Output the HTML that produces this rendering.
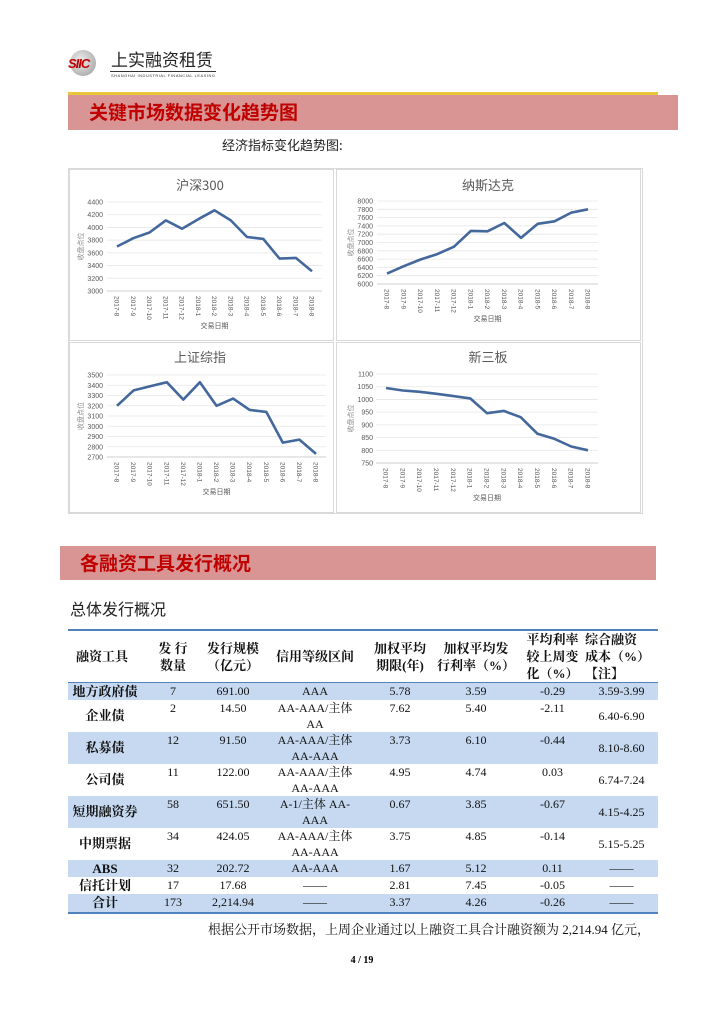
<!DOCTYPE html>
<html><head><meta charset="utf-8">
<style>
*{margin:0;padding:0;box-sizing:border-box}
body{width:724px;height:1023px;background:#fff;position:relative;font-family:"Liberation Sans","Noto Sans CJK SC",sans-serif;overflow:hidden}
.abs{position:absolute}
.banner{position:absolute;background:#d99594;color:#c00000;font-weight:bold;font-size:19px;font-family:"Noto Sans CJK SC",sans-serif}
table{border-collapse:collapse;position:absolute;left:68px;top:630px;width:590px;font-family:"Liberation Serif","Noto Serif CJK SC",serif;font-size:12px;color:#111}
td{text-align:center;vertical-align:top;padding:0;line-height:16px}
tr.b td{background:#c6d9f1}
td.n{font-weight:bold;vertical-align:middle;font-size:13px}
td.m{vertical-align:middle}
thead td{font-weight:bold;font-size:13px;vertical-align:middle;line-height:17px}
</style></head><body>
<!-- logo -->
<div class="abs" style="left:70px;top:50px;width:26px;height:26px;border-radius:50%;background:radial-gradient(circle at 40% 40%,#eee,#999)"></div>
<div class="abs" style="left:68px;top:56px;font:italic bold 13px 'Liberation Sans',sans-serif;color:#c00000;letter-spacing:-1px">SIIC</div>
<div class="abs" style="left:111px;top:48px;font-size:17px;color:#222;font-family:'Noto Sans CJK SC',sans-serif;line-height:22px">上实融资租赁</div>
<div class="abs" style="left:110px;top:71px;width:106px;border-top:1px solid #333"></div>
<div class="abs" style="left:111px;top:73px;font-size:4px;color:#333;letter-spacing:0.5px">SHANGHAI INDUSTRIAL FINANCIAL LEASING</div>
<div class="abs" style="left:68px;top:92px;width:590px;height:3px;background:#e8c53a"></div>
<div class="banner" style="left:68px;top:95px;width:610px;height:35px;line-height:33px;padding-left:21px">关键市场数据变化趋势图</div>
<div class="abs" style="left:222px;top:135px;font-size:13px;color:#222;font-family:'Noto Sans CJK SC',sans-serif">经济指标变化趋势图:</div>
<svg class="abs" style="left:0;top:0" width="724" height="530" id="ch"></svg>
<div class="banner" style="left:60px;top:546px;width:596px;height:34px;line-height:34px;padding-left:20px">各融资工具发行概况</div>
<div class="abs" style="left:70px;top:596px;font-size:16px;color:#222;font-family:'Noto Sans CJK SC',sans-serif">总体发行概况</div>
<div class="abs" style="left:68px;top:629px;width:590px;border-top:2px solid #4f81bd"></div>
<div class="abs" style="left:68px;top:682px;width:590px;border-top:1px solid #4f81bd"></div>
<div class="abs" style="left:68px;top:912px;width:590px;border-top:2px solid #4f81bd"></div>
<table>
<colgroup><col style="width:74px"><col style="width:62px"><col style="width:58px"><col style="width:106px"><col style="width:64px"><col style="width:88px"><col style="width:65px"><col style="width:73px"></colgroup>
<thead><tr style="height:53px"><td style="text-align:left;padding-left:8px">融资工具</td><td>发 行<br>数量</td><td>发行规模<br>（亿元）</td><td>信用等级区间</td><td>加权平均<br>期限(年)</td><td>加权平均发<br>行利率（%）</td><td>平均利率<br>较上周变<br>化（%）</td><td style="text-align:left">综合融资<br>成本（%）<br>【注】</td></tr></thead>
<tbody>
<tr class="b" style="height:17px"><td class="n">地方政府债</td><td>7</td><td>691.00</td><td>AAA</td><td>5.78</td><td>3.59</td><td>-0.29</td><td>3.59-3.99</td></tr>
<tr style="height:32px"><td class="n">企业债</td><td>2</td><td>14.50</td><td>AA-AAA/主体<br>AA</td><td>7.62</td><td>5.40</td><td>-2.11</td><td class="m">6.40-6.90</td></tr>
<tr class="b" style="height:32px"><td class="n">私募债</td><td>12</td><td>91.50</td><td>AA-AAA/主体<br>AA-AAA</td><td>3.73</td><td>6.10</td><td>-0.44</td><td class="m">8.10-8.60</td></tr>
<tr style="height:32px"><td class="n">公司债</td><td>11</td><td>122.00</td><td>AA-AAA/主体<br>AA-AAA</td><td>4.95</td><td>4.74</td><td>0.03</td><td class="m">6.74-7.24</td></tr>
<tr class="b" style="height:32px"><td class="n">短期融资券</td><td>58</td><td>651.50</td><td>A-1/主体 AA-<br>AAA</td><td>0.67</td><td>3.85</td><td>-0.67</td><td class="m">4.15-4.25</td></tr>
<tr style="height:32px"><td class="n">中期票据</td><td>34</td><td>424.05</td><td>AA-AAA/主体<br>AA-AAA</td><td>3.75</td><td>4.85</td><td>-0.14</td><td class="m">5.15-5.25</td></tr>
<tr class="b" style="height:17px"><td class="n">ABS</td><td>32</td><td>202.72</td><td>AA-AAA</td><td>1.67</td><td>5.12</td><td>0.11</td><td>——</td></tr>
<tr style="height:17px"><td class="n">信托计划</td><td>17</td><td>17.68</td><td>——</td><td>2.81</td><td>7.45</td><td>-0.05</td><td>——</td></tr>
<tr class="b" style="height:18px"><td class="n">合计</td><td>173</td><td>2,214.94</td><td>——</td><td>3.37</td><td>4.26</td><td>-0.26</td><td>——</td></tr>
</tbody></table>
<div class="abs" style="left:208px;top:919px;font-size:13px;color:#111;font-family:'Liberation Serif','Noto Serif CJK SC',serif">根据公开市场数据，上周企业通过以上融资工具合计融资额为 2,214.94 亿元，</div>
<div class="abs" style="left:0;width:724px;top:955px;text-align:center;font:bold 10px 'Liberation Serif',serif">4 / 19</div>
<script>
var s='';
s+='<rect x="68.5" y="168.5" width="574" height="345" fill="#fff" stroke="#d9d9d9"/>';
s+='<rect x="69.5" y="169.5" width="264" height="171" fill="none" stroke="#d9d9d9"/>';
s+='<rect x="336.5" y="169.5" width="304" height="171" fill="none" stroke="#d9d9d9"/>';
s+='<rect x="69.5" y="342.5" width="264" height="170" fill="none" stroke="#d9d9d9"/>';
s+='<rect x="336.5" y="342.5" width="304" height="170" fill="none" stroke="#d9d9d9"/>';
var labs=['2017-8','2017-9','2017-10','2017-11','2017-12','2018-1','2018-2','2018-3','2018-4','2018-5','2018-6','2018-7','2018-8'];
function chart(o){
 var n=o.ticks.length;
 s+='<text x="'+o.cx+'" y="'+o.ty+'" font-size="13" fill="#595959" text-anchor="middle" font-family="Noto Sans CJK SC,sans-serif">'+o.title+'</text>';
 for(var i=0;i<n;i++){var y=o.top+(o.bot-o.top)*i/(n-1);
  s+='<line x1="'+(o.x0-10)+'" x2="'+(o.x1+10)+'" y1="'+y+'" y2="'+y+'" stroke="'+(i==n-1?'#bfbfbf':'#e6e6e6')+'" stroke-width="0.8"/>';
  s+='<text x="'+o.lx+'" y="'+(y+2.5)+'" font-size="7" fill="#595959" text-anchor="end">'+o.ticks[i]+'</text>';}
 var hi=o.ticks[0],lo=o.ticks[n-1],p='';
 for(var j=0;j<13;j++){var x=o.x0+(o.x1-o.x0)*j/12,y=o.top+(hi-o.v[j])/(hi-lo)*(o.bot-o.top);p+=(j?'L':'M')+x.toFixed(1)+','+y.toFixed(1);
  s+='<text transform="translate('+(x-2.5)+','+(o.bot+5)+') rotate(90)" font-size="6.5" fill="#595959">'+labs[j]+'</text>';}
 s+='<path d="'+p+'" fill="none" stroke="#44679c" stroke-width="2.6" stroke-linejoin="round"/>';
 s+='<text x="'+((o.x0+o.x1)/2)+'" y="'+(o.bot+37)+'" font-size="7" fill="#595959" text-anchor="middle" font-family="Noto Sans CJK SC,sans-serif">交易日期</text>';
 var my=(o.top+o.bot)/2;
 s+='<text transform="translate('+(o.lx-20)+','+my+') rotate(-90)" font-size="7" fill="#8c8c8c" text-anchor="middle" font-family="Noto Sans CJK SC,sans-serif">收盘点位</text>';
}
chart({title:'沪深300',cx:200,ty:190,top:202,bot:291,x0:117,x1:312,lx:103,ticks:[4400,4200,4000,3800,3600,3400,3200,3000],v:[3700,3830,3920,4110,3980,4130,4270,4110,3850,3820,3510,3520,3310]});
chart({title:'纳斯达克',cx:488,ty:190,top:201,bot:284,x0:387,x1:588,lx:373,ticks:[8000,7800,7600,7400,7200,7000,6800,6600,6400,6200,6000],v:[6250,6430,6590,6720,6900,7280,7270,7470,7110,7450,7510,7720,7800]});
chart({title:'上证综指',cx:200,ty:362,top:375,bot:457,x0:117,x1:316,lx:103,ticks:[3500,3400,3300,3200,3100,3000,2900,2800,2700],v:[3200,3350,3390,3430,3260,3430,3200,3270,3160,3140,2840,2870,2730]});
chart({title:'新三板',cx:488,ty:362,top:374,bot:463,x0:386,x1:588,lx:373,ticks:[1100,1050,1000,950,900,850,800,750],v:[1045,1035,1030,1022,1013,1004,946,955,930,865,845,815,800]});
document.getElementById('ch').innerHTML=s;
</script>
</body></html>
